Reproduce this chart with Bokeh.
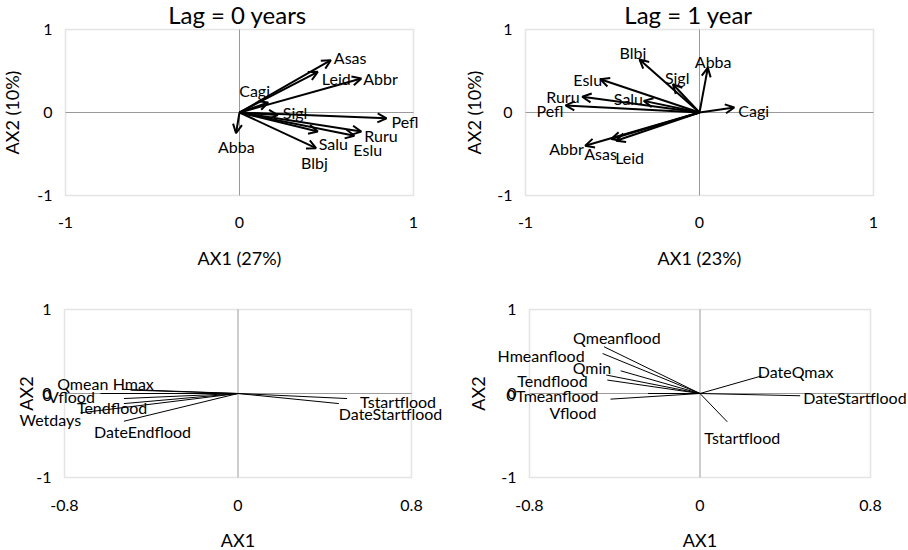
from bokeh.plotting import figure
from bokeh.models import Range1d, FixedTicker, Arrow, OpenHead, ColumnDataSource, Label, BoxAnnotation
from bokeh.layouts import column, row
from bokeh.embed import file_html
from bokeh.resources import INLINE
from bokeh.core.properties import value

FONT = "Lato"

# ---------------- data ----------------
Y_LIMITS = (-1, 1)
Y_TICKS = [-1, 0, 1]
Y_TICK_LABELS = ["-1", "0", "1"]
SPECIES_X_LIMITS = (-1, 1)
SPECIES_X_TICKS = [-1, 0, 1]
SPECIES_X_TICK_LABELS = ["-1", "0", "1"]
ENV_X_LIMITS = (-0.8, 0.8)
ENV_X_TICKS = [-0.8, 0, 0.8]
ENV_X_TICK_LABELS = ["-0.8", "0", "0.8"]

LAG0_TITLE = "Lag = 0 years"
LAG0_XTITLE = "AX1 (27%)"
LAG0_YTITLE = "AX2 (10%)"
LAG0_SPECIES = ["Asas", "Leid", "Abbr", "Cagi", "Sigl", "Pefl", "Ruru", "Eslu", "Salu", "Blbj", "Abba"]
LAG0_AX1 = [0.525, 0.45, 0.70, 0.165, 0.22, 0.845, 0.70, 0.66, 0.45, 0.44, -0.02]
LAG0_AX2 = [0.63, 0.49, 0.41, 0.12, -0.03, -0.07, -0.23, -0.28, -0.23, -0.43, -0.25]

LAG1_TITLE = "Lag = 1 year"
LAG1_XTITLE = "AX1 (23%)"
LAG1_YTITLE = "AX2 (10%)"
LAG1_SPECIES = ["Blbj", "Abba", "Sigl", "Eslu", "Ruru", "Salu", "Pefl", "Cagi", "Abbr", "Asas", "Leid"]
LAG1_AX1 = [-0.345, 0.048, -0.153, -0.57, -0.674, -0.32, -0.77, 0.20, -0.657, -0.507, -0.479]
LAG1_AX2 = [0.64, 0.54, 0.34, 0.40, 0.19, 0.14, 0.085, 0.06, -0.40, -0.32, -0.34]

ENV_XTITLE = "AX1"
ENV_YTITLE = "AX2"
ENV0_VARS = ["Qmean", "Hmax", "0", "Vflood", "Tendflood", "Wetdays", "DateEndflood", "Tstartflood", "DateStartflood"]
ENV0_AX1 = [-0.534, -0.495, -0.634, -0.526, -0.526, -0.726, -0.526, 0.503, 0.465]
ENV0_AX2 = [0.05, 0.04, 0.0, -0.06, -0.12, -0.23, -0.33, -0.06, -0.12]

ENV1_VARS = ["Qmeanflood", "Hmeanflood", "Qmin", "Tendflood", "0", "Tmeanflood", "Vflood", "DateQmax", "DateStartflood", "Tstartflood"]
ENV1_AX1 = [-0.45, -0.457, -0.372, -0.44, -0.435, -0.244, -0.42, 0.29, 0.47, 0.128]
ENV1_AX2 = [0.556, 0.476, 0.27, 0.22, 0.16, 0.0, -0.067, 0.21, -0.027, -0.337]

# ---------------- label placement (pixels: right, up) ----------------
LAG0_LABEL_DX = [3, 4, 2, -29, 5, 5, 3, -1, 1, -15, -18]
LAG0_LABEL_DY = [3, -7, 0, 12, 2, -3, -4, -14, -12, -14, -13]
LAG1_LABEL_DX = [-20, -13, -8, -27, -36, -30, -29, 4, -36, -27, -1]
LAG1_LABEL_DY = [7, 6, 7, 0, 0, 2, -5, -3, -3, -14, -17]
ENV0_LABEL_DX = [-65, -18, -58, -76, -47, -61, -30, 13, 0]
ENV0_LABEL_DY = [6, 7, -2, 2, -4, -7, -10, -3, -10]
ENV1_LABEL_DX = [-31, -105, -48, -89, -101, -132, -61, -4, 3, -23]
ENV1_LABEL_DY = [9, -2, 3, -5, -15, -2, -13, 4, -2, -16]

FRAME_COLOR = "#a6a6a6"
ZERO_COLOR = "#9a9a9a"


def make_panel(W, H, box, xlim, xticks, xticklabels, xtitle, ytitle,
               names, xs, ys, ldx, ldy, arrows, title=None, title_dx=0,
               xl_standoff=21, xt_standoff=16, yl_standoff=13, yt_standoff=11):
    L, R, T, B = box  # pixel edges of the plotting box inside the canvas
    dppx = (xlim[1] - xlim[0]) / (R - L)
    dppy = (Y_LIMITS[1] - Y_LIMITS[0]) / (B - T)
    x_range = Range1d(xlim[0] - L * dppx, xlim[1] + (W - R) * dppx)
    y_range = Range1d(Y_LIMITS[0] - (H - B) * dppy, Y_LIMITS[1] + T * dppy)

    p = figure(width=W, height=H, x_range=x_range, y_range=y_range,
               output_backend="svg", toolbar_location=None,
               min_border_left=0, min_border_right=0, min_border_top=0, min_border_bottom=0)
    p.background_fill_color = "white"
    p.border_fill_color = "white"
    p.outline_line_color = None
    p.xgrid.visible = False
    p.ygrid.visible = False

    for ax, ticks, labels in ((p.xaxis[0], xticks, xticklabels), (p.yaxis[0], Y_TICKS, Y_TICK_LABELS)):
        ax.ticker = FixedTicker(ticks=ticks)
        ax.major_label_overrides = {t: l for t, l in zip(ticks, labels)}
        ax.axis_line_color = None
        ax.major_tick_line_color = None
        ax.minor_tick_line_color = None
        ax.major_tick_out = 0
        ax.major_tick_in = 0
        ax.major_label_text_font = FONT
        ax.major_label_text_font_size = "16px"
        ax.major_label_text_color = "black"
        ax.axis_label_text_font = FONT
        ax.axis_label_text_font_size = "18px"
        ax.axis_label_text_font_style = "normal"
        ax.axis_label_text_color = "black"
    p.xaxis.fixed_location = Y_LIMITS[0]
    p.yaxis.fixed_location = xlim[0]
    p.xaxis.bounds = xlim
    p.yaxis.bounds = Y_LIMITS
    p.xaxis.axis_label = xtitle
    p.yaxis.axis_label = ytitle
    p.xaxis.major_label_standoff = xl_standoff
    p.xaxis.axis_label_standoff = xt_standoff
    p.yaxis.major_label_standoff = yl_standoff
    p.yaxis.axis_label_standoff = yt_standoff

    # zero reference lines inside the box
    p.segment(x0=[xlim[0], 0], y0=[0, Y_LIMITS[0]], x1=[xlim[1], 0], y1=[0, Y_LIMITS[1]],
              line_color=ZERO_COLOR, line_width=1)
    # plot box
    p.add_layout(BoxAnnotation(left=xlim[0], right=xlim[1], bottom=Y_LIMITS[0], top=Y_LIMITS[1],
                               fill_color=None, fill_alpha=0, line_color=FRAME_COLOR,
                               line_width=1.5, level="underlay"))

    ppx = 1.0 / dppx
    ppy = 1.0 / dppy
    lx = [x + dx / ppx for x, dx in zip(xs, ldx)]
    ly = [y + dy / ppy for y, dy in zip(ys, ldy)]
    src = ColumnDataSource(dict(x=xs, y=ys, lx=lx, ly=ly, name=names))

    if arrows:
        p.add_layout(Arrow(end=OpenHead(size=9, line_width=2, line_color="black"),
                           x_start=0, y_start=0, x_end="x", y_end="y", source=src,
                           line_width=2, line_color="black"))
    else:
        p.segment(x0=0, y0=0, x1="x", y1="y", source=src, line_width=1, line_color="black")

    p.text(x="lx", y="ly", text="name", source=src, text_font=value(FONT),
           text_font_size="16px", text_align="left", text_baseline="middle", text_color="black")

    if title:
        p.add_layout(Label(x=(xlim[0] + xlim[1]) / 2 + title_dx * dppx, y=Y_LIMITS[1] + 1 * dppy,
                           text=title, text_align="center", text_baseline="bottom",
                           text_font=FONT, text_font_size="24px", text_color="black"))
    return p


p1 = make_panel(454, 290, (65, 413, 29, 195), SPECIES_X_LIMITS, SPECIES_X_TICKS, SPECIES_X_TICK_LABELS,
                LAG0_XTITLE, LAG0_YTITLE, LAG0_SPECIES, LAG0_AX1, LAG0_AX2,
                LAG0_LABEL_DX, LAG0_LABEL_DY, True, title=LAG0_TITLE, title_dx=-2,
                yt_standoff=11)
p2 = make_panel(452, 290, (71, 419, 29, 195), SPECIES_X_LIMITS, SPECIES_X_TICKS, SPECIES_X_TICK_LABELS,
                LAG1_XTITLE, LAG1_YTITLE, LAG1_SPECIES, LAG1_AX1, LAG1_AX2,
                LAG1_LABEL_DX, LAG1_LABEL_DY, True, title=LAG1_TITLE, title_dx=-11,
                yt_standoff=9)
p3 = make_panel(454, 259, (64, 411, 19, 187), ENV_X_LIMITS, ENV_X_TICKS, ENV_X_TICK_LABELS,
                ENV_XTITLE, ENV_YTITLE, ENV0_VARS, ENV0_AX1, ENV0_AX2,
                ENV0_LABEL_DX, ENV0_LABEL_DY, False, xl_standoff=22, xt_standoff=15,
                yt_standoff=-4)
p4 = make_panel(452, 259, (75, 416, 19, 187), ENV_X_LIMITS, ENV_X_TICKS, ENV_X_TICK_LABELS,
                ENV_XTITLE, ENV_YTITLE, ENV1_VARS, ENV1_AX1, ENV1_AX2,
                ENV1_LABEL_DX, ENV1_LABEL_DY, False, xl_standoff=22, xt_standoff=15,
                yt_standoff=9)

layout = column(row(p1, p2), row(p3, p4))
open("out.html", "w").write(file_html(layout, INLINE))
